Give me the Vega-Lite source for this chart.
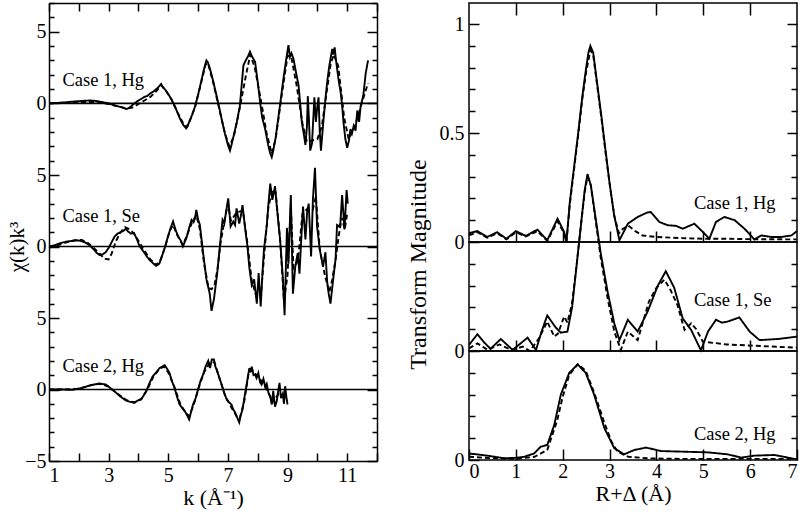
{
"$schema": "https://vega.github.io/schema/vega-lite/v6.json",
"background": "white",
"padding": {"left": 6, "top": 1, "right": 2, "bottom": 2},
"config": {
  "view": {"stroke": null},
  "font": "Liberation Serif",
  "axis": {"labelFont": "Liberation Serif", "labelFontSize": 20, "labelColor": "black", "titleFont": "Liberation Serif", "titleFontSize": 21, "titleFontWeight": "normal", "titleColor": "black", "tickColor": "black", "tickWidth": 1.5, "domainColor": "black", "domainWidth": 1.5, "grid": false},
  "text": {"font": "Liberation Serif", "fontSize": 18.5, "color": "black"},
  "line": {"color": "black", "strokeWidth": 1.9}
},
"datasets": {
  "hg1": [
    {"k":1.0,"chi":0,"s":"measured"},{"k":1.2,"chi":0.02,"s":"measured"},{"k":1.4,"chi":0.05,"s":"measured"},{"k":1.6,"chi":0.08,"s":"measured"},{"k":1.8,"chi":0.12,"s":"measured"},{"k":2.0,"chi":0.15,"s":"measured"},{"k":2.2,"chi":0.18,"s":"measured"},{"k":2.4,"chi":0.2,"s":"measured"},{"k":2.6,"chi":0.16,"s":"measured"},{"k":2.8,"chi":0.08,"s":"measured"},{"k":3.0,"chi":0.0,"s":"measured"},{"k":3.2,"chi":-0.15,"s":"measured"},{"k":3.4,"chi":-0.25,"s":"measured"},{"k":3.6,"chi":-0.4,"s":"measured"},{"k":3.7,"chi":-0.3,"s":"measured"},{"k":3.8,"chi":-0.12,"s":"measured"},{"k":3.9,"chi":0.05,"s":"measured"},{"k":4.0,"chi":0.2,"s":"measured"},{"k":4.1,"chi":0.32,"s":"measured"},{"k":4.2,"chi":0.45,"s":"measured"},{"k":4.3,"chi":0.52,"s":"measured"},{"k":4.4,"chi":0.7,"s":"measured"},{"k":4.5,"chi":0.82,"s":"measured"},{"k":4.6,"chi":1.0,"s":"measured"},{"k":4.7,"chi":1.2,"s":"measured"},{"k":4.76,"chi":1.35,"s":"measured"},{"k":4.82,"chi":1.12,"s":"measured"},{"k":4.9,"chi":0.95,"s":"measured"},{"k":5.0,"chi":0.65,"s":"measured"},{"k":5.1,"chi":0.3,"s":"measured"},{"k":5.2,"chi":-0.1,"s":"measured"},{"k":5.3,"chi":-0.6,"s":"measured"},{"k":5.4,"chi":-1.1,"s":"measured"},{"k":5.5,"chi":-1.5,"s":"measured"},{"k":5.6,"chi":-1.75,"s":"measured"},{"k":5.65,"chi":-1.6,"s":"measured"},{"k":5.7,"chi":-1.3,"s":"measured"},{"k":5.8,"chi":-0.8,"s":"measured"},{"k":5.9,"chi":-0.2,"s":"measured"},{"k":6.0,"chi":0.6,"s":"measured"},{"k":6.1,"chi":1.5,"s":"measured"},{"k":6.2,"chi":2.4,"s":"measured"},{"k":6.28,"chi":3.0,"s":"measured"},{"k":6.33,"chi":2.85,"s":"measured"},{"k":6.4,"chi":2.4,"s":"measured"},{"k":6.5,"chi":1.6,"s":"measured"},{"k":6.6,"chi":0.7,"s":"measured"},{"k":6.7,"chi":-0.2,"s":"measured"},{"k":6.8,"chi":-1.2,"s":"measured"},{"k":6.9,"chi":-2.1,"s":"measured"},{"k":7.0,"chi":-2.9,"s":"measured"},{"k":7.07,"chi":-3.3,"s":"measured"},{"k":7.12,"chi":-2.9,"s":"measured"},{"k":7.2,"chi":-2.2,"s":"measured"},{"k":7.3,"chi":-1.3,"s":"measured"},{"k":7.4,"chi":-0.2,"s":"measured"},{"k":7.52,"chi":2.65,"s":"measured"},{"k":7.6,"chi":3.0,"s":"measured"},{"k":7.68,"chi":3.3,"s":"measured"},{"k":7.74,"chi":3.6,"s":"measured"},{"k":7.8,"chi":3.3,"s":"measured"},{"k":7.91,"chi":2.9,"s":"measured"},{"k":8.0,"chi":1.5,"s":"measured"},{"k":8.08,"chi":0.07,"s":"measured"},{"k":8.15,"chi":-1.0,"s":"measured"},{"k":8.25,"chi":-1.8,"s":"measured"},{"k":8.35,"chi":-2.9,"s":"measured"},{"k":8.42,"chi":-3.5,"s":"measured"},{"k":8.47,"chi":-3.75,"s":"measured"},{"k":8.52,"chi":-3.3,"s":"measured"},{"k":8.6,"chi":-2.4,"s":"measured"},{"k":8.7,"chi":-0.87,"s":"measured"},{"k":8.78,"chi":0.4,"s":"measured"},{"k":8.86,"chi":1.7,"s":"measured"},{"k":8.95,"chi":3.0,"s":"measured"},{"k":9.03,"chi":4.06,"s":"measured"},{"k":9.08,"chi":3.24,"s":"measured"},{"k":9.13,"chi":3.5,"s":"measured"},{"k":9.2,"chi":3.1,"s":"measured"},{"k":9.28,"chi":2.2,"s":"measured"},{"k":9.37,"chi":1.24,"s":"measured"},{"k":9.48,"chi":-1.34,"s":"measured"},{"k":9.55,"chi":-2.2,"s":"measured"},{"k":9.6,"chi":-2.9,"s":"measured"},{"k":9.65,"chi":-1.6,"s":"measured"},{"k":9.68,"chi":0.5,"s":"measured"},{"k":9.71,"chi":-0.8,"s":"measured"},{"k":9.76,"chi":-3.3,"s":"measured"},{"k":9.82,"chi":-2.8,"s":"measured"},{"k":9.87,"chi":-0.8,"s":"measured"},{"k":9.9,"chi":0.42,"s":"measured"},{"k":9.95,"chi":-1.3,"s":"measured"},{"k":10.0,"chi":-0.2,"s":"measured"},{"k":10.04,"chi":0.42,"s":"measured"},{"k":10.08,"chi":-2.0,"s":"measured"},{"k":10.12,"chi":-3.3,"s":"measured"},{"k":10.2,"chi":-1.3,"s":"measured"},{"k":10.27,"chi":0.3,"s":"measured"},{"k":10.33,"chi":1.5,"s":"measured"},{"k":10.4,"chi":2.6,"s":"measured"},{"k":10.44,"chi":3.1,"s":"measured"},{"k":10.5,"chi":3.8,"s":"measured"},{"k":10.53,"chi":3.4,"s":"measured"},{"k":10.58,"chi":3.9,"s":"measured"},{"k":10.62,"chi":3.1,"s":"measured"},{"k":10.72,"chi":1.5,"s":"measured"},{"k":10.78,"chi":0.8,"s":"measured"},{"k":10.83,"chi":-0.16,"s":"measured"},{"k":10.88,"chi":-1.4,"s":"measured"},{"k":10.94,"chi":-2.5,"s":"measured"},{"k":11.0,"chi":-3.1,"s":"measured"},{"k":11.06,"chi":-2.6,"s":"measured"},{"k":11.11,"chi":-1.8,"s":"measured"},{"k":11.16,"chi":-2.1,"s":"measured"},{"k":11.22,"chi":-1.57,"s":"measured"},{"k":11.28,"chi":-1.9,"s":"measured"},{"k":11.34,"chi":-0.5,"s":"measured"},{"k":11.4,"chi":-1.3,"s":"measured"},{"k":11.45,"chi":-0.2,"s":"measured"},{"k":11.54,"chi":0.54,"s":"measured"},{"k":11.62,"chi":2.07,"s":"measured"},{"k":11.7,"chi":3.0,"s":"measured"},
    {"k":1.0,"chi":0,"s":"fit"},{"k":1.5,"chi":0.03,"s":"fit"},{"k":2.0,"chi":0.08,"s":"fit"},{"k":2.5,"chi":0.1,"s":"fit"},{"k":3.0,"chi":-0.05,"s":"fit"},{"k":3.3,"chi":-0.2,"s":"fit"},{"k":3.6,"chi":-0.35,"s":"fit"},{"k":3.8,"chi":-0.3,"s":"fit"},{"k":4.0,"chi":-0.05,"s":"fit"},{"k":4.2,"chi":0.2,"s":"fit"},{"k":4.4,"chi":0.45,"s":"fit"},{"k":4.6,"chi":0.85,"s":"fit"},{"k":4.76,"chi":1.25,"s":"fit"},{"k":4.9,"chi":0.95,"s":"fit"},{"k":5.1,"chi":0.3,"s":"fit"},{"k":5.3,"chi":-0.6,"s":"fit"},{"k":5.5,"chi":-1.4,"s":"fit"},{"k":5.6,"chi":-1.65,"s":"fit"},{"k":5.7,"chi":-1.35,"s":"fit"},{"k":5.9,"chi":-0.25,"s":"fit"},{"k":6.1,"chi":1.4,"s":"fit"},{"k":6.25,"chi":2.7,"s":"fit"},{"k":6.33,"chi":2.8,"s":"fit"},{"k":6.5,"chi":1.5,"s":"fit"},{"k":6.7,"chi":-0.3,"s":"fit"},{"k":6.9,"chi":-2.1,"s":"fit"},{"k":7.05,"chi":-3.0,"s":"fit"},{"k":7.2,"chi":-2.3,"s":"fit"},{"k":7.4,"chi":-0.3,"s":"fit"},{"k":7.6,"chi":1.9,"s":"fit"},{"k":7.75,"chi":3.4,"s":"fit"},{"k":7.9,"chi":2.5,"s":"fit"},{"k":8.1,"chi":0.3,"s":"fit"},{"k":8.3,"chi":-2.1,"s":"fit"},{"k":8.47,"chi":-3.5,"s":"fit"},{"k":8.6,"chi":-2.5,"s":"fit"},{"k":8.8,"chi":0.5,"s":"fit"},{"k":9.0,"chi":3.3,"s":"fit"},{"k":9.12,"chi":3.3,"s":"fit"},{"k":9.3,"chi":1.3,"s":"fit"},{"k":9.5,"chi":-1.4,"s":"fit"},{"k":9.65,"chi":-2.7,"s":"fit"},{"k":9.8,"chi":-2.6,"s":"fit"},{"k":10.0,"chi":-2.5,"s":"fit"},{"k":10.15,"chi":-1.6,"s":"fit"},{"k":10.3,"chi":0.6,"s":"fit"},{"k":10.45,"chi":2.8,"s":"fit"},{"k":10.55,"chi":3.4,"s":"fit"},{"k":10.7,"chi":2.6,"s":"fit"},{"k":10.9,"chi":-1.0,"s":"fit"},{"k":11.05,"chi":-2.5,"s":"fit"},{"k":11.2,"chi":-1.9,"s":"fit"},{"k":11.35,"chi":-1.0,"s":"fit"},{"k":11.5,"chi":0.1,"s":"fit"},{"k":11.7,"chi":1.4,"s":"fit"}
  ],
  "se1": [
    {"k":1.0,"chi":0,"s":"measured"},{"k":1.2,"chi":0.1,"s":"measured"},{"k":1.4,"chi":0.25,"s":"measured"},{"k":1.6,"chi":0.35,"s":"measured"},{"k":1.8,"chi":0.4,"s":"measured"},{"k":2.0,"chi":0.42,"s":"measured"},{"k":2.2,"chi":0.3,"s":"measured"},{"k":2.35,"chi":0.1,"s":"measured"},{"k":2.5,"chi":-0.2,"s":"measured"},{"k":2.6,"chi":-0.45,"s":"measured"},{"k":2.7,"chi":-0.6,"s":"measured"},{"k":2.8,"chi":-0.55,"s":"measured"},{"k":2.9,"chi":-0.4,"s":"measured"},{"k":3.0,"chi":-0.1,"s":"measured"},{"k":3.1,"chi":0.3,"s":"measured"},{"k":3.2,"chi":0.7,"s":"measured"},{"k":3.3,"chi":0.9,"s":"measured"},{"k":3.4,"chi":1.0,"s":"measured"},{"k":3.5,"chi":1.1,"s":"measured"},{"k":3.58,"chi":1.25,"s":"measured"},{"k":3.65,"chi":1.05,"s":"measured"},{"k":3.75,"chi":0.9,"s":"measured"},{"k":3.85,"chi":0.95,"s":"measured"},{"k":3.95,"chi":0.5,"s":"measured"},{"k":4.03,"chi":0.05,"s":"measured"},{"k":4.15,"chi":-0.3,"s":"measured"},{"k":4.3,"chi":-0.75,"s":"measured"},{"k":4.37,"chi":-0.93,"s":"measured"},{"k":4.48,"chi":-1.15,"s":"measured"},{"k":4.59,"chi":-1.35,"s":"measured"},{"k":4.7,"chi":-1.2,"s":"measured"},{"k":4.8,"chi":-0.6,"s":"measured"},{"k":4.88,"chi":-0.1,"s":"measured"},{"k":4.99,"chi":0.7,"s":"measured"},{"k":5.08,"chi":1.3,"s":"measured"},{"k":5.16,"chi":1.75,"s":"measured"},{"k":5.24,"chi":1.2,"s":"measured"},{"k":5.33,"chi":0.7,"s":"measured"},{"k":5.41,"chi":0.45,"s":"measured"},{"k":5.49,"chi":0.0,"s":"measured"},{"k":5.55,"chi":0.3,"s":"measured"},{"k":5.61,"chi":0.6,"s":"measured"},{"k":5.7,"chi":1.3,"s":"measured"},{"k":5.78,"chi":1.86,"s":"measured"},{"k":5.85,"chi":1.7,"s":"measured"},{"k":5.9,"chi":2.0,"s":"measured"},{"k":5.94,"chi":2.56,"s":"measured"},{"k":6.0,"chi":1.9,"s":"measured"},{"k":6.06,"chi":1.5,"s":"measured"},{"k":6.17,"chi":-0.47,"s":"measured"},{"k":6.28,"chi":-2.3,"s":"measured"},{"k":6.39,"chi":-3.3,"s":"measured"},{"k":6.45,"chi":-4.5,"s":"measured"},{"k":6.53,"chi":-3.7,"s":"measured"},{"k":6.64,"chi":-1.9,"s":"measured"},{"k":6.73,"chi":0.0,"s":"measured"},{"k":6.82,"chi":1.86,"s":"measured"},{"k":6.88,"chi":1.6,"s":"measured"},{"k":6.93,"chi":2.3,"s":"measured"},{"k":7.01,"chi":3.37,"s":"measured"},{"k":7.09,"chi":1.4,"s":"measured"},{"k":7.18,"chi":1.74,"s":"measured"},{"k":7.24,"chi":1.5,"s":"measured"},{"k":7.29,"chi":2.67,"s":"measured"},{"k":7.38,"chi":1.6,"s":"measured"},{"k":7.44,"chi":2.2,"s":"measured"},{"k":7.49,"chi":2.9,"s":"measured"},{"k":7.57,"chi":1.4,"s":"measured"},{"k":7.65,"chi":0.1,"s":"measured"},{"k":7.72,"chi":-1.5,"s":"measured"},{"k":7.8,"chi":-2.7,"s":"measured"},{"k":7.88,"chi":-2.3,"s":"measured"},{"k":7.97,"chi":-4.0,"s":"measured"},{"k":8.03,"chi":-1.86,"s":"measured"},{"k":8.1,"chi":-4.2,"s":"measured"},{"k":8.16,"chi":-1.8,"s":"measured"},{"k":8.21,"chi":-0.2,"s":"measured"},{"k":8.3,"chi":1.4,"s":"measured"},{"k":8.36,"chi":3.0,"s":"measured"},{"k":8.42,"chi":4.4,"s":"measured"},{"k":8.49,"chi":3.26,"s":"measured"},{"k":8.58,"chi":4.2,"s":"measured"},{"k":8.64,"chi":2.8,"s":"measured"},{"k":8.75,"chi":0.47,"s":"measured"},{"k":8.84,"chi":-2.1,"s":"measured"},{"k":8.9,"chi":-4.8,"s":"measured"},{"k":8.98,"chi":1.3,"s":"measured"},{"k":9.03,"chi":-1.2,"s":"measured"},{"k":9.11,"chi":3.6,"s":"measured"},{"k":9.18,"chi":-3.3,"s":"measured"},{"k":9.26,"chi":-1.4,"s":"measured"},{"k":9.34,"chi":-0.47,"s":"measured"},{"k":9.4,"chi":-1.9,"s":"measured"},{"k":9.46,"chi":0.5,"s":"measured"},{"k":9.52,"chi":2.8,"s":"measured"},{"k":9.6,"chi":0.5,"s":"measured"},{"k":9.66,"chi":2.5,"s":"measured"},{"k":9.71,"chi":3.0,"s":"measured"},{"k":9.79,"chi":-0.7,"s":"measured"},{"k":9.85,"chi":3.26,"s":"measured"},{"k":9.92,"chi":5.5,"s":"measured"},{"k":9.99,"chi":1.4,"s":"measured"},{"k":10.08,"chi":-0.2,"s":"measured"},{"k":10.19,"chi":-1.4,"s":"measured"},{"k":10.27,"chi":-0.4,"s":"measured"},{"k":10.33,"chi":-2.5,"s":"measured"},{"k":10.38,"chi":-3.3,"s":"measured"},{"k":10.44,"chi":-4.0,"s":"measured"},{"k":10.53,"chi":-2.3,"s":"measured"},{"k":10.61,"chi":-0.9,"s":"measured"},{"k":10.66,"chi":1.5,"s":"measured"},{"k":10.72,"chi":1.4,"s":"measured"},{"k":10.77,"chi":1.6,"s":"measured"},{"k":10.83,"chi":3.6,"s":"measured"},{"k":10.91,"chi":1.2,"s":"measured"},{"k":10.98,"chi":3.95,"s":"measured"},{"k":11.02,"chi":3.0,"s":"measured"},
    {"k":1.0,"chi":-0.1,"s":"fit"},{"k":1.3,"chi":0.1,"s":"fit"},{"k":1.6,"chi":0.3,"s":"fit"},{"k":1.9,"chi":0.45,"s":"fit"},{"k":2.1,"chi":0.45,"s":"fit"},{"k":2.3,"chi":0.25,"s":"fit"},{"k":2.5,"chi":-0.1,"s":"fit"},{"k":2.7,"chi":-0.5,"s":"fit"},{"k":2.85,"chi":-0.85,"s":"fit"},{"k":3.0,"chi":-0.9,"s":"fit"},{"k":3.1,"chi":-0.5,"s":"fit"},{"k":3.25,"chi":0.4,"s":"fit"},{"k":3.4,"chi":1.0,"s":"fit"},{"k":3.55,"chi":1.35,"s":"fit"},{"k":3.7,"chi":1.2,"s":"fit"},{"k":3.85,"chi":0.9,"s":"fit"},{"k":4.0,"chi":0.4,"s":"fit"},{"k":4.2,"chi":-0.3,"s":"fit"},{"k":4.4,"chi":-0.9,"s":"fit"},{"k":4.6,"chi":-1.3,"s":"fit"},{"k":4.75,"chi":-0.9,"s":"fit"},{"k":4.9,"chi":0.0,"s":"fit"},{"k":5.05,"chi":1.1,"s":"fit"},{"k":5.16,"chi":1.5,"s":"fit"},{"k":5.3,"chi":0.8,"s":"fit"},{"k":5.49,"chi":0.1,"s":"fit"},{"k":5.65,"chi":0.9,"s":"fit"},{"k":5.8,"chi":1.7,"s":"fit"},{"k":5.94,"chi":2.2,"s":"fit"},{"k":6.06,"chi":1.2,"s":"fit"},{"k":6.2,"chi":-1.2,"s":"fit"},{"k":6.35,"chi":-2.9,"s":"fit"},{"k":6.45,"chi":-3.0,"s":"fit"},{"k":6.55,"chi":-2.7,"s":"fit"},{"k":6.65,"chi":-1.6,"s":"fit"},{"k":6.75,"chi":0.2,"s":"fit"},{"k":6.9,"chi":2.0,"s":"fit"},{"k":7.0,"chi":3.0,"s":"fit"},{"k":7.1,"chi":1.8,"s":"fit"},{"k":7.3,"chi":2.4,"s":"fit"},{"k":7.5,"chi":2.5,"s":"fit"},{"k":7.65,"chi":0.3,"s":"fit"},{"k":7.8,"chi":-2.4,"s":"fit"},{"k":7.97,"chi":-3.6,"s":"fit"},{"k":8.1,"chi":-3.6,"s":"fit"},{"k":8.22,"chi":-0.5,"s":"fit"},{"k":8.36,"chi":2.8,"s":"fit"},{"k":8.5,"chi":4.0,"s":"fit"},{"k":8.6,"chi":3.8,"s":"fit"},{"k":8.75,"chi":0.5,"s":"fit"},{"k":8.88,"chi":-3.8,"s":"fit"},{"k":9.0,"chi":-2.0,"s":"fit"},{"k":9.11,"chi":2.8,"s":"fit"},{"k":9.2,"chi":-1.5,"s":"fit"},{"k":9.35,"chi":-1.0,"s":"fit"},{"k":9.5,"chi":2.3,"s":"fit"},{"k":9.7,"chi":2.7,"s":"fit"},{"k":9.85,"chi":2.6,"s":"fit"},{"k":9.95,"chi":3.5,"s":"fit"},{"k":10.08,"chi":-0.2,"s":"fit"},{"k":10.25,"chi":-2.0,"s":"fit"},{"k":10.4,"chi":-3.2,"s":"fit"},{"k":10.5,"chi":-2.3,"s":"fit"},{"k":10.62,"chi":-0.8,"s":"fit"},{"k":10.72,"chi":0.8,"s":"fit"},{"k":10.82,"chi":2.0,"s":"fit"},{"k":10.92,"chi":1.2,"s":"fit"},{"k":11.0,"chi":2.3,"s":"fit"}
  ],
  "hg2": [
    {"k":1.0,"chi":0,"s":"measured"},{"k":1.4,"chi":0.0,"s":"measured"},{"k":1.8,"chi":-0.02,"s":"measured"},{"k":2.12,"chi":0.12,"s":"measured"},{"k":2.4,"chi":0.3,"s":"measured"},{"k":2.69,"chi":0.42,"s":"measured"},{"k":2.9,"chi":0.35,"s":"measured"},{"k":3.05,"chi":0.12,"s":"measured"},{"k":3.25,"chi":-0.23,"s":"measured"},{"k":3.4,"chi":-0.5,"s":"measured"},{"k":3.58,"chi":-0.77,"s":"measured"},{"k":3.7,"chi":-0.85,"s":"measured"},{"k":3.87,"chi":-0.93,"s":"measured"},{"k":3.95,"chi":-0.8,"s":"measured"},{"k":4.09,"chi":-0.7,"s":"measured"},{"k":4.18,"chi":-0.4,"s":"measured"},{"k":4.26,"chi":-0.12,"s":"measured"},{"k":4.37,"chi":0.45,"s":"measured"},{"k":4.48,"chi":0.93,"s":"measured"},{"k":4.6,"chi":1.2,"s":"measured"},{"k":4.71,"chi":1.5,"s":"measured"},{"k":4.8,"chi":1.6,"s":"measured"},{"k":4.88,"chi":1.7,"s":"measured"},{"k":4.96,"chi":1.45,"s":"measured"},{"k":5.04,"chi":1.16,"s":"measured"},{"k":5.12,"chi":0.6,"s":"measured"},{"k":5.21,"chi":0.12,"s":"measured"},{"k":5.3,"chi":-0.55,"s":"measured"},{"k":5.38,"chi":-1.05,"s":"measured"},{"k":5.47,"chi":-1.3,"s":"measured"},{"k":5.55,"chi":-1.5,"s":"measured"},{"k":5.62,"chi":-1.75,"s":"measured"},{"k":5.7,"chi":-2.1,"s":"measured"},{"k":5.76,"chi":-1.6,"s":"measured"},{"k":5.83,"chi":-1.05,"s":"measured"},{"k":5.92,"chi":-0.6,"s":"measured"},{"k":6.0,"chi":0.0,"s":"measured"},{"k":6.08,"chi":0.6,"s":"measured"},{"k":6.17,"chi":1.05,"s":"measured"},{"k":6.25,"chi":1.6,"s":"measured"},{"k":6.34,"chi":2.0,"s":"measured"},{"k":6.4,"chi":1.5,"s":"measured"},{"k":6.46,"chi":2.1,"s":"measured"},{"k":6.53,"chi":2.1,"s":"measured"},{"k":6.58,"chi":1.6,"s":"measured"},{"k":6.62,"chi":1.4,"s":"measured"},{"k":6.7,"chi":0.9,"s":"measured"},{"k":6.79,"chi":0.35,"s":"measured"},{"k":6.87,"chi":-0.2,"s":"measured"},{"k":6.96,"chi":-0.7,"s":"measured"},{"k":7.04,"chi":-0.9,"s":"measured"},{"k":7.12,"chi":-1.05,"s":"measured"},{"k":7.18,"chi":-1.4,"s":"measured"},{"k":7.24,"chi":-1.6,"s":"measured"},{"k":7.3,"chi":-1.9,"s":"measured"},{"k":7.38,"chi":-2.3,"s":"measured"},{"k":7.43,"chi":-1.8,"s":"measured"},{"k":7.49,"chi":-1.4,"s":"measured"},{"k":7.55,"chi":-0.6,"s":"measured"},{"k":7.61,"chi":0.12,"s":"measured"},{"k":7.67,"chi":0.9,"s":"measured"},{"k":7.72,"chi":1.5,"s":"measured"},{"k":7.76,"chi":1.2,"s":"measured"},{"k":7.8,"chi":1.6,"s":"measured"},{"k":7.86,"chi":1.0,"s":"measured"},{"k":7.91,"chi":1.05,"s":"measured"},{"k":7.96,"chi":0.8,"s":"measured"},{"k":8.02,"chi":1.16,"s":"measured"},{"k":8.08,"chi":0.5,"s":"measured"},{"k":8.13,"chi":0.35,"s":"measured"},{"k":8.19,"chi":0.75,"s":"measured"},{"k":8.25,"chi":0.2,"s":"measured"},{"k":8.3,"chi":0.4,"s":"measured"},{"k":8.36,"chi":-0.23,"s":"measured"},{"k":8.42,"chi":-0.5,"s":"measured"},{"k":8.47,"chi":-1.05,"s":"measured"},{"k":8.52,"chi":-0.1,"s":"measured"},{"k":8.58,"chi":-1.2,"s":"measured"},{"k":8.64,"chi":-0.8,"s":"measured"},{"k":8.68,"chi":-0.2,"s":"measured"},{"k":8.73,"chi":0.46,"s":"measured"},{"k":8.78,"chi":-0.6,"s":"measured"},{"k":8.84,"chi":-0.3,"s":"measured"},{"k":8.88,"chi":-1.0,"s":"measured"},{"k":8.92,"chi":0.23,"s":"measured"},{"k":8.96,"chi":-0.5,"s":"measured"},{"k":9.0,"chi":-1.05,"s":"measured"},
    {"k":1.0,"chi":0,"s":"fit"},{"k":1.5,"chi":0.0,"s":"fit"},{"k":2.0,"chi":0.05,"s":"fit"},{"k":2.4,"chi":0.3,"s":"fit"},{"k":2.7,"chi":0.4,"s":"fit"},{"k":3.0,"chi":0.2,"s":"fit"},{"k":3.3,"chi":-0.3,"s":"fit"},{"k":3.6,"chi":-0.75,"s":"fit"},{"k":3.85,"chi":-0.9,"s":"fit"},{"k":4.1,"chi":-0.65,"s":"fit"},{"k":4.3,"chi":0.0,"s":"fit"},{"k":4.5,"chi":0.9,"s":"fit"},{"k":4.7,"chi":1.45,"s":"fit"},{"k":4.85,"chi":1.6,"s":"fit"},{"k":5.0,"chi":1.2,"s":"fit"},{"k":5.2,"chi":0.2,"s":"fit"},{"k":5.4,"chi":-1.0,"s":"fit"},{"k":5.6,"chi":-1.7,"s":"fit"},{"k":5.7,"chi":-1.85,"s":"fit"},{"k":5.85,"chi":-1.1,"s":"fit"},{"k":6.0,"chi":0.0,"s":"fit"},{"k":6.2,"chi":1.2,"s":"fit"},{"k":6.4,"chi":1.9,"s":"fit"},{"k":6.55,"chi":1.9,"s":"fit"},{"k":6.7,"chi":0.9,"s":"fit"},{"k":6.9,"chi":-0.4,"s":"fit"},{"k":7.1,"chi":-1.2,"s":"fit"},{"k":7.3,"chi":-1.9,"s":"fit"},{"k":7.4,"chi":-2.0,"s":"fit"},{"k":7.55,"chi":-0.8,"s":"fit"},{"k":7.7,"chi":1.2,"s":"fit"},{"k":7.8,"chi":1.4,"s":"fit"},{"k":8.0,"chi":0.9,"s":"fit"},{"k":8.2,"chi":0.4,"s":"fit"},{"k":8.4,"chi":-0.4,"s":"fit"},{"k":8.5,"chi":-0.9,"s":"fit"},{"k":8.7,"chi":-0.3,"s":"fit"},{"k":8.85,"chi":-0.5,"s":"fit"},{"k":9.0,"chi":-0.8,"s":"fit"}
  ],
  "ft1": [
    {"R":0,"mag":0.04,"s":"measured"},{"R":0.18,"mag":0.05,"s":"measured"},{"R":0.39,"mag":0.023,"s":"measured"},{"R":0.6,"mag":0.045,"s":"measured"},{"R":0.8,"mag":0.015,"s":"measured"},{"R":1.0,"mag":0.05,"s":"measured"},{"R":1.21,"mag":0.028,"s":"measured"},{"R":1.46,"mag":0.057,"s":"measured"},{"R":1.67,"mag":0.008,"s":"measured"},{"R":1.89,"mag":0.107,"s":"measured"},{"R":2.03,"mag":0.046,"s":"measured"},{"R":2.08,"mag":0.0,"s":"measured"},{"R":2.15,"mag":0.18,"s":"measured"},{"R":2.24,"mag":0.34,"s":"measured"},{"R":2.33,"mag":0.5,"s":"measured"},{"R":2.42,"mag":0.67,"s":"measured"},{"R":2.5,"mag":0.8,"s":"measured"},{"R":2.55,"mag":0.87,"s":"measured"},{"R":2.59,"mag":0.9,"s":"measured"},{"R":2.65,"mag":0.87,"s":"measured"},{"R":2.74,"mag":0.72,"s":"measured"},{"R":2.83,"mag":0.57,"s":"measured"},{"R":2.92,"mag":0.41,"s":"measured"},{"R":3.0,"mag":0.27,"s":"measured"},{"R":3.1,"mag":0.12,"s":"measured"},{"R":3.21,"mag":0.008,"s":"measured"},{"R":3.39,"mag":0.084,"s":"measured"},{"R":3.6,"mag":0.115,"s":"measured"},{"R":3.8,"mag":0.135,"s":"measured"},{"R":3.88,"mag":0.138,"s":"measured"},{"R":4.06,"mag":0.092,"s":"measured"},{"R":4.24,"mag":0.077,"s":"measured"},{"R":4.42,"mag":0.074,"s":"measured"},{"R":4.56,"mag":0.061,"s":"measured"},{"R":4.81,"mag":0.084,"s":"measured"},{"R":4.99,"mag":0.046,"s":"measured"},{"R":5.13,"mag":0.015,"s":"measured"},{"R":5.27,"mag":0.092,"s":"measured"},{"R":5.45,"mag":0.115,"s":"measured"},{"R":5.67,"mag":0.1,"s":"measured"},{"R":5.88,"mag":0.061,"s":"measured"},{"R":6.09,"mag":0.012,"s":"measured"},{"R":6.24,"mag":0.03,"s":"measured"},{"R":6.45,"mag":0.023,"s":"measured"},{"R":6.66,"mag":0.023,"s":"measured"},{"R":6.88,"mag":0.03,"s":"measured"},{"R":7.0,"mag":0.05,"s":"measured"},
    {"R":0,"mag":0.03,"s":"fit"},{"R":0.18,"mag":0.045,"s":"fit"},{"R":0.39,"mag":0.02,"s":"fit"},{"R":0.6,"mag":0.04,"s":"fit"},{"R":0.8,"mag":0.012,"s":"fit"},{"R":1.0,"mag":0.045,"s":"fit"},{"R":1.21,"mag":0.025,"s":"fit"},{"R":1.46,"mag":0.05,"s":"fit"},{"R":1.67,"mag":0.005,"s":"fit"},{"R":1.89,"mag":0.095,"s":"fit"},{"R":2.03,"mag":0.04,"s":"fit"},{"R":2.08,"mag":0.0,"s":"fit"},{"R":2.15,"mag":0.17,"s":"fit"},{"R":2.24,"mag":0.33,"s":"fit"},{"R":2.33,"mag":0.49,"s":"fit"},{"R":2.42,"mag":0.66,"s":"fit"},{"R":2.5,"mag":0.78,"s":"fit"},{"R":2.59,"mag":0.88,"s":"fit"},{"R":2.65,"mag":0.86,"s":"fit"},{"R":2.74,"mag":0.71,"s":"fit"},{"R":2.83,"mag":0.56,"s":"fit"},{"R":2.92,"mag":0.4,"s":"fit"},{"R":3.0,"mag":0.27,"s":"fit"},{"R":3.1,"mag":0.12,"s":"fit"},{"R":3.2,"mag":0.04,"s":"fit"},{"R":3.28,"mag":0.06,"s":"fit"},{"R":3.4,"mag":0.075,"s":"fit"},{"R":3.55,"mag":0.05,"s":"fit"},{"R":3.7,"mag":0.03,"s":"fit"},{"R":4.0,"mag":0.023,"s":"fit"},{"R":4.5,"mag":0.018,"s":"fit"},{"R":5.0,"mag":0.015,"s":"fit"},{"R":5.5,"mag":0.015,"s":"fit"},{"R":6.0,"mag":0.013,"s":"fit"},{"R":7.0,"mag":0.012,"s":"fit"}
  ],
  "ft2": [
    {"R":0,"mag":0.028,"s":"measured"},{"R":0.18,"mag":0.077,"s":"measured"},{"R":0.32,"mag":0.04,"s":"measured"},{"R":0.46,"mag":0.01,"s":"measured"},{"R":0.68,"mag":0.055,"s":"measured"},{"R":0.93,"mag":0.005,"s":"measured"},{"R":1.25,"mag":0.061,"s":"measured"},{"R":1.43,"mag":0.005,"s":"measured"},{"R":1.55,"mag":0.09,"s":"measured"},{"R":1.67,"mag":0.163,"s":"measured"},{"R":1.85,"mag":0.108,"s":"measured"},{"R":1.96,"mag":0.084,"s":"measured"},{"R":2.1,"mag":0.089,"s":"measured"},{"R":2.2,"mag":0.2,"s":"measured"},{"R":2.3,"mag":0.4,"s":"measured"},{"R":2.4,"mag":0.6,"s":"measured"},{"R":2.47,"mag":0.74,"s":"measured"},{"R":2.53,"mag":0.811,"s":"measured"},{"R":2.6,"mag":0.76,"s":"measured"},{"R":2.67,"mag":0.657,"s":"measured"},{"R":2.81,"mag":0.45,"s":"measured"},{"R":2.96,"mag":0.27,"s":"measured"},{"R":3.1,"mag":0.127,"s":"measured"},{"R":3.21,"mag":0.05,"s":"measured"},{"R":3.39,"mag":0.143,"s":"measured"},{"R":3.6,"mag":0.089,"s":"measured"},{"R":3.81,"mag":0.18,"s":"measured"},{"R":4.03,"mag":0.3,"s":"measured"},{"R":4.2,"mag":0.366,"s":"measured"},{"R":4.38,"mag":0.29,"s":"measured"},{"R":4.56,"mag":0.15,"s":"measured"},{"R":4.74,"mag":0.097,"s":"measured"},{"R":4.95,"mag":0.003,"s":"measured"},{"R":5.1,"mag":0.089,"s":"measured"},{"R":5.27,"mag":0.143,"s":"measured"},{"R":5.4,"mag":0.13,"s":"measured"},{"R":5.52,"mag":0.135,"s":"measured"},{"R":5.77,"mag":0.154,"s":"measured"},{"R":5.99,"mag":0.089,"s":"measured"},{"R":6.2,"mag":0.05,"s":"measured"},{"R":6.59,"mag":0.055,"s":"measured"},{"R":7.0,"mag":0.066,"s":"measured"},
    {"R":0,"mag":0.012,"s":"fit"},{"R":0.18,"mag":0.035,"s":"fit"},{"R":0.4,"mag":0.005,"s":"fit"},{"R":0.65,"mag":0.03,"s":"fit"},{"R":0.9,"mag":0.005,"s":"fit"},{"R":1.15,"mag":0.02,"s":"fit"},{"R":1.3,"mag":0.0,"s":"fit"},{"R":1.5,"mag":0.06,"s":"fit"},{"R":1.67,"mag":0.135,"s":"fit"},{"R":1.82,"mag":0.066,"s":"fit"},{"R":1.9,"mag":0.08,"s":"fit"},{"R":2.03,"mag":0.158,"s":"fit"},{"R":2.1,"mag":0.13,"s":"fit"},{"R":2.2,"mag":0.22,"s":"fit"},{"R":2.3,"mag":0.4,"s":"fit"},{"R":2.4,"mag":0.6,"s":"fit"},{"R":2.47,"mag":0.73,"s":"fit"},{"R":2.53,"mag":0.8,"s":"fit"},{"R":2.6,"mag":0.76,"s":"fit"},{"R":2.67,"mag":0.65,"s":"fit"},{"R":2.81,"mag":0.43,"s":"fit"},{"R":2.96,"mag":0.24,"s":"fit"},{"R":3.1,"mag":0.09,"s":"fit"},{"R":3.24,"mag":0.005,"s":"fit"},{"R":3.39,"mag":0.089,"s":"fit"},{"R":3.6,"mag":0.05,"s":"fit"},{"R":3.84,"mag":0.227,"s":"fit"},{"R":4.0,"mag":0.29,"s":"fit"},{"R":4.17,"mag":0.327,"s":"fit"},{"R":4.3,"mag":0.28,"s":"fit"},{"R":4.45,"mag":0.21,"s":"fit"},{"R":4.6,"mag":0.097,"s":"fit"},{"R":4.74,"mag":0.127,"s":"fit"},{"R":4.85,"mag":0.1,"s":"fit"},{"R":4.99,"mag":0.043,"s":"fit"},{"R":5.5,"mag":0.03,"s":"fit"},{"R":6.0,"mag":0.025,"s":"fit"},{"R":7.0,"mag":0.015,"s":"fit"}
  ],
  "ft3": [
    {"R":0,"mag":0.03,"s":"measured"},{"R":0.39,"mag":0.02,"s":"measured"},{"R":0.75,"mag":0.008,"s":"measured"},{"R":1.0,"mag":0.01,"s":"measured"},{"R":1.18,"mag":0.015,"s":"measured"},{"R":1.39,"mag":0.03,"s":"measured"},{"R":1.53,"mag":0.061,"s":"measured"},{"R":1.67,"mag":0.069,"s":"measured"},{"R":1.82,"mag":0.161,"s":"measured"},{"R":1.96,"mag":0.3,"s":"measured"},{"R":2.14,"mag":0.4,"s":"measured"},{"R":2.32,"mag":0.438,"s":"measured"},{"R":2.49,"mag":0.4,"s":"measured"},{"R":2.67,"mag":0.3,"s":"measured"},{"R":2.89,"mag":0.146,"s":"measured"},{"R":3.1,"mag":0.054,"s":"measured"},{"R":3.31,"mag":0.026,"s":"measured"},{"R":3.53,"mag":0.046,"s":"measured"},{"R":3.78,"mag":0.057,"s":"measured"},{"R":4.1,"mag":0.041,"s":"measured"},{"R":4.6,"mag":0.038,"s":"measured"},{"R":5.1,"mag":0.035,"s":"measured"},{"R":5.52,"mag":0.026,"s":"measured"},{"R":5.81,"mag":0.011,"s":"measured"},{"R":6.09,"mag":0.02,"s":"measured"},{"R":6.52,"mag":0.023,"s":"measured"},{"R":6.95,"mag":0.005,"s":"measured"},
    {"R":0,"mag":0.015,"s":"fit"},{"R":0.5,"mag":0.008,"s":"fit"},{"R":1.0,"mag":0.005,"s":"fit"},{"R":1.4,"mag":0.015,"s":"fit"},{"R":1.67,"mag":0.046,"s":"fit"},{"R":1.88,"mag":0.18,"s":"fit"},{"R":2.0,"mag":0.29,"s":"fit"},{"R":2.14,"mag":0.39,"s":"fit"},{"R":2.32,"mag":0.44,"s":"fit"},{"R":2.49,"mag":0.41,"s":"fit"},{"R":2.67,"mag":0.31,"s":"fit"},{"R":2.89,"mag":0.17,"s":"fit"},{"R":3.05,"mag":0.08,"s":"fit"},{"R":3.17,"mag":0.038,"s":"fit"},{"R":3.4,"mag":0.015,"s":"fit"},{"R":3.8,"mag":0.008,"s":"fit"},{"R":4.5,"mag":0.005,"s":"fit"},{"R":7.0,"mag":0.005,"s":"fit"}
  ]
},
"spacing": 27,
"hconcat": [
  {"spacing": 0, "bounds": "flush", "vconcat": [
    {"width": 328, "height": 172,
     "layer": [
      {"data": {"name": "hg1"},
       "mark": {"type": "line", "strokeWidth": 1.9, "color": "black"},
       "encoding": {
        "x": {"field": "k", "type": "quantitative", "scale": {"domain": [1, 12], "nice": false, "zero": false},
              "axis": {"orient": "top", "values": [1,2,3,4,5,6,7,8,9,10,11,12], "labels": false, "tickSize": -8, "title": null}},
        "y": {"field": "chi", "type": "quantitative", "scale": {"domain": [-5, 7], "nice": false, "zero": false},
              "axis": {"orient": "left", "values": [-4,-3,-2,-1,0,1,2,3,4,5,6,7], "labelExpr": "datum.value % 5 === 0 ? datum.label : ''", "labelPadding": 13, "tickSize": {"condition": {"test": "datum.value % 5 === 0", "value": -10}, "value": -5}, "title": null}},
        "strokeDash": {"field": "s", "type": "nominal", "scale": {"domain": ["measured", "fit"], "range": [[1, 0], [5, 3]]}, "legend": null}
       }},
      {"data": {"values": [{"ref": 0}]},
       "mark": {"type": "rule", "strokeWidth": 1.6, "color": "black"},
       "encoding": {"y": {"field": "ref", "type": "quantitative",
              "axis": {"orient": "right", "values": [-4,-3,-2,-1,0,1,2,3,4,5,6,7], "labels": false, "tickSize": {"condition": {"test": "datum.value % 5 === 0", "value": -10}, "value": -5}, "title": null}}}},
      {"data": {"values": [{"label": "Case 1, Hg", "k": 1.45, "chi": 1.62}]},
       "mark": {"type": "text", "align": "left", "baseline": "middle"},
       "encoding": {"x": {"field": "k", "type": "quantitative", "axis": null}, "y": {"field": "chi", "type": "quantitative", "axis": null}, "text": {"field": "label"}}}
     ],
     "resolve": {"axis": {"x": "independent", "y": "independent"}}},
    {"width": 328, "height": 143,
     "layer": [
      {"data": {"name": "se1"},
       "mark": {"type": "line", "strokeWidth": 1.9, "color": "black"},
       "encoding": {
        "x": {"field": "k", "type": "quantitative", "scale": {"domain": [1, 12], "nice": false, "zero": false}, "axis": null},
        "y": {"field": "chi", "type": "quantitative", "scale": {"domain": [-5, 5], "nice": false, "zero": false},
              "axis": {"orient": "left", "values": [-4,-3,-2,-1,0,1,2,3,4,5], "labelExpr": "datum.value % 5 === 0 ? datum.label : ''", "labelPadding": 13, "tickSize": {"condition": {"test": "datum.value % 5 === 0", "value": -10}, "value": -5}, "title": "χ(k)k³", "titlePadding": 9}},
        "strokeDash": {"field": "s", "type": "nominal", "scale": {"domain": ["measured", "fit"], "range": [[1, 0], [5, 3]]}, "legend": null}
       }},
      {"data": {"values": [{"ref": 0}]},
       "mark": {"type": "rule", "strokeWidth": 1.6, "color": "black"},
       "encoding": {"y": {"field": "ref", "type": "quantitative",
              "axis": {"orient": "right", "values": [-4,-3,-2,-1,0,1,2,3,4,5], "labels": false, "tickSize": {"condition": {"test": "datum.value % 5 === 0", "value": -10}, "value": -5}, "title": null}}}},
      {"data": {"values": [{"label": "Case 1, Se", "k": 1.45, "chi": 2.13}]},
       "mark": {"type": "text", "align": "left", "baseline": "middle"},
       "encoding": {"x": {"field": "k", "type": "quantitative", "axis": null}, "y": {"field": "chi", "type": "quantitative", "axis": null}, "text": {"field": "label"}}}
     ],
     "resolve": {"axis": {"x": "independent", "y": "independent"}}},
    {"width": 328, "height": 143,
     "layer": [
      {"data": {"name": "hg2"},
       "mark": {"type": "line", "strokeWidth": 1.9, "color": "black"},
       "encoding": {
        "x": {"field": "k", "type": "quantitative", "scale": {"domain": [1, 12], "nice": false, "zero": false},
              "axis": {"orient": "bottom", "values": [1,2,3,4,5,6,7,8,9,10,11,12], "labelExpr": "datum.value % 2 === 1 ? datum.label : ''", "labelPadding": 12, "tickSize": -8, "title": "k (Å⁻¹)", "titleFontSize": 22, "titlePadding": 2}},
        "y": {"field": "chi", "type": "quantitative", "scale": {"domain": [-5, 5], "nice": false, "zero": false},
              "axis": {"orient": "left", "values": [-5,-4,-3,-2,-1,0,1,2,3,4,5], "labelExpr": "datum.value % 5 === 0 ? datum.label : ''", "labelPadding": 13, "tickSize": {"condition": {"test": "datum.value % 5 === 0", "value": -10}, "value": -5}, "title": null}},
        "strokeDash": {"field": "s", "type": "nominal", "scale": {"domain": ["measured", "fit"], "range": [[1, 0], [5, 3]]}, "legend": null}
       }},
      {"data": {"values": [{"ref": 0}]},
       "mark": {"type": "rule", "strokeWidth": 1.6, "color": "black"},
       "encoding": {"y": {"field": "ref", "type": "quantitative",
              "axis": {"orient": "right", "values": [-5,-4,-3,-2,-1,0,1,2,3,4,5], "labels": false, "tickSize": {"condition": {"test": "datum.value % 5 === 0", "value": -10}, "value": -5}, "title": null}}}},
      {"data": {"values": [{"label": "Case 2, Hg", "k": 1.45, "chi": 1.65}]},
       "mark": {"type": "text", "align": "left", "baseline": "middle"},
       "encoding": {"x": {"field": "k", "type": "quantitative", "axis": null}, "y": {"field": "chi", "type": "quantitative", "axis": null}, "text": {"field": "label"}}}
     ],
     "resolve": {"axis": {"x": "independent", "y": "independent"}}}
  ]},
  {"spacing": 0, "bounds": "flush", "vconcat": [
    {"width": 328, "height": 239, "view": {"stroke": "black", "strokeWidth": 1.5},
     "layer": [
      {"data": {"name": "ft1"},
       "mark": {"type": "line", "strokeWidth": 1.9, "color": "black"},
       "encoding": {
        "x": {"field": "R", "type": "quantitative", "scale": {"domain": [0, 7], "nice": false, "zero": false},
              "axis": {"orient": "bottom", "values": [1,2,3,4,5,6], "labels": false, "domain": false, "tickSize": -11, "title": null}},
        "y": {"field": "mag", "type": "quantitative", "scale": {"domain": [0, 1.097], "nice": false},
              "axis": {"orient": "left", "values": [0,0.1,0.2,0.3,0.4,0.5,0.6,0.7,0.8,0.9,1.0], "domain": false, "labelExpr": "datum.value === 0 ? '0' : datum.value === 0.5 ? '0.5' : datum.value === 1 ? '1' : ''", "labelPadding": 15, "tickSize": {"condition": {"test": "datum.value === 0.5 || datum.value === 1 || datum.value === 0", "value": -10}, "value": -6}, "title": null}},
        "strokeDash": {"field": "s", "type": "nominal", "scale": {"domain": ["measured", "fit"], "range": [[1, 0], [5, 3]]}, "legend": null}
       }},
      {"data": {"values": [{"label": "Case 1, Hg", "R": 4.8, "mag": 0.181}]},
       "mark": {"type": "text", "align": "left", "baseline": "middle"},
       "encoding": {"x": {"field": "R", "type": "quantitative", "axis": {"orient": "top", "values": [1,2,3,4,5,6], "labels": false, "domain": false, "tickSize": -12, "title": null}},
                    "y": {"field": "mag", "type": "quantitative", "axis": {"orient": "right", "values": [0.1,0.2,0.3,0.4,0.5,0.6,0.7,0.8,0.9,1.0], "labels": false, "domain": false, "tickSize": {"condition": {"test": "datum.value === 0.5 || datum.value === 1", "value": -10}, "value": -6}, "title": null}},
                    "text": {"field": "label"}}}
     ],
     "resolve": {"axis": {"x": "independent", "y": "independent"}}},
    {"width": 328, "height": 109, "view": {"stroke": "black", "strokeWidth": 1.5},
     "layer": [
      {"data": {"name": "ft2"},
       "mark": {"type": "line", "strokeWidth": 1.9, "color": "black", "clip": false},
       "encoding": {
        "x": {"field": "R", "type": "quantitative", "scale": {"domain": [0, 7], "nice": false, "zero": false},
              "axis": {"orient": "bottom", "values": [1,2,3,4,5,6], "labels": false, "domain": false, "tickSize": -11, "title": null}},
        "y": {"field": "mag", "type": "quantitative", "scale": {"domain": [0, 0.5], "nice": false},
              "axis": {"orient": "left", "values": [0,0.1,0.2,0.3,0.4], "domain": false, "labelExpr": "datum.value === 0 ? '0' : ''", "labelPadding": 15, "tickSize": {"condition": {"test": "datum.value === 0", "value": -10}, "value": -6}, "title": "Transform Magnitude", "titleY": 22, "titleFontSize": 24, "titlePadding": 24}},
        "strokeDash": {"field": "s", "type": "nominal", "scale": {"domain": ["measured", "fit"], "range": [[1, 0], [5, 3]]}, "legend": null}
       }},
      {"data": {"values": [{"label": "Case 1, Se", "R": 4.8, "mag": 0.235}]},
       "mark": {"type": "text", "align": "left", "baseline": "middle"},
       "encoding": {"x": {"field": "R", "type": "quantitative", "axis": null},
                    "y": {"field": "mag", "type": "quantitative", "axis": {"orient": "right", "values": [0.1,0.2,0.3,0.4], "labels": false, "domain": false, "tickSize": -6, "title": null}},
                    "text": {"field": "label"}}}
     ],
     "resolve": {"axis": {"x": "independent", "y": "independent"}}},
    {"width": 328, "height": 109, "view": {"stroke": "black", "strokeWidth": 1.5},
     "layer": [
      {"data": {"name": "ft3"},
       "mark": {"type": "line", "strokeWidth": 1.9, "color": "black"},
       "encoding": {
        "x": {"field": "R", "type": "quantitative", "scale": {"domain": [0, 7], "nice": false, "zero": false},
              "axis": {"orient": "bottom", "values": [0,1,2,3,4,5,6,7], "domain": false, "labelPadding": 12, "tickSize": -11, "title": "R+Δ (Å)", "titleFontSize": 22, "titlePadding": 2}},
        "y": {"field": "mag", "type": "quantitative", "scale": {"domain": [0, 0.5], "nice": false},
              "axis": {"orient": "left", "values": [0,0.1,0.2,0.3,0.4], "domain": false, "labelExpr": "datum.value === 0 ? '0' : ''", "labelPadding": 15, "tickSize": {"condition": {"test": "datum.value === 0", "value": -10}, "value": -6}, "title": null}},
        "strokeDash": {"field": "s", "type": "nominal", "scale": {"domain": ["measured", "fit"], "range": [[1, 0], [5, 3]]}, "legend": null}
       }},
      {"data": {"values": [{"label": "Case 2, Hg", "R": 4.8, "mag": 0.118}]},
       "mark": {"type": "text", "align": "left", "baseline": "middle"},
       "encoding": {"x": {"field": "R", "type": "quantitative", "axis": null},
                    "y": {"field": "mag", "type": "quantitative", "axis": {"orient": "right", "values": [0.1,0.2,0.3,0.4], "labels": false, "domain": false, "tickSize": -6, "title": null}},
                    "text": {"field": "label"}}}
     ],
     "resolve": {"axis": {"x": "independent", "y": "independent"}}}
  ]}
]
}
